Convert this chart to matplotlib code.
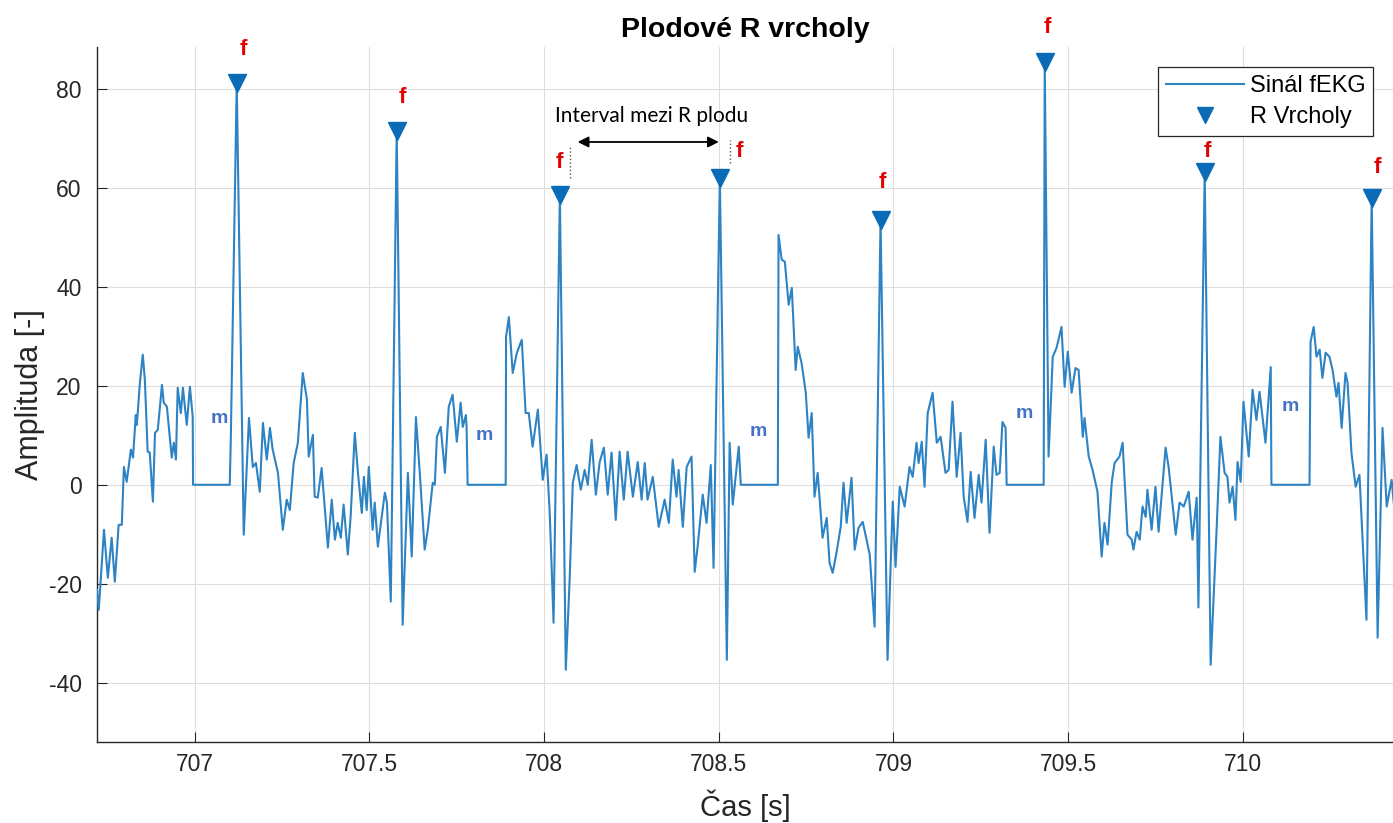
import numpy as np
import matplotlib
matplotlib.use("Agg")
from matplotlib import pyplot as plt
from matplotlib.ticker import MultipleLocator, FuncFormatter

matplotlib.rcParams.update({'font.family': ['Liberation Sans', 'DejaVu Sans'],
                            'axes.unicode_minus': False})

# fetal ECG trace (time [s], amplitude [-])
sig_t = [
    706.720, 706.725, 706.740, 706.751, 706.762, 706.771, 706.782, 706.791, 706.797, 706.805,
    706.817, 706.823, 706.831, 706.834, 706.843, 706.851, 706.857, 706.865, 706.871, 706.880,
    706.886, 706.894, 706.906, 706.911, 706.920, 706.934, 706.940, 706.946, 706.951, 706.960,
    706.966, 706.977, 706.986, 706.994, 706.995, 707.100, 707.103, 707.120, 707.140, 707.155,
    707.166, 707.175, 707.186, 707.195, 707.206, 707.215, 707.223, 707.238, 707.252, 707.263,
    707.272, 707.283, 707.295, 707.309, 707.321, 707.326, 707.338, 707.343, 707.352, 707.363,
    707.381, 707.392, 707.401, 707.409, 707.418, 707.426, 707.438, 707.446, 707.458, 707.467,
    707.478, 707.484, 707.492, 707.498, 707.509, 707.515, 707.524, 707.544, 707.550, 707.561,
    707.578, 707.595, 707.610, 707.621, 707.633, 707.644, 707.658, 707.667, 707.681, 707.687,
    707.693, 707.704, 707.716, 707.727, 707.738, 707.750, 707.761, 707.767, 707.776, 707.778,
    707.781, 707.890, 707.891, 707.899, 707.910, 707.922, 707.936, 707.947, 707.956, 707.967,
    707.982, 707.996, 708.007, 708.016, 708.027, 708.045, 708.062, 708.073, 708.082, 708.093,
    708.105, 708.116, 708.125, 708.136, 708.148, 708.159, 708.171, 708.182, 708.193, 708.205,
    708.216, 708.228, 708.239, 708.254, 708.268, 708.279, 708.288, 708.296, 708.311, 708.328,
    708.345, 708.357, 708.368, 708.379, 708.385, 708.397, 708.408, 708.422, 708.431, 708.440,
    708.454, 708.465, 708.477, 708.485, 708.503, 708.523, 708.531, 708.540, 708.557, 708.563,
    708.669, 708.671, 708.680, 708.689, 708.700, 708.709, 708.720, 708.726, 708.737, 708.749,
    708.757, 708.766, 708.774, 708.783, 708.797, 708.809, 708.817, 708.826, 708.837, 708.849,
    708.857, 708.866, 708.880, 708.889, 708.900, 708.912, 708.932, 708.946, 708.963, 708.983,
    708.998, 709.006, 709.018, 709.032, 709.046, 709.055, 709.066, 709.072, 709.081, 709.089,
    709.098, 709.112, 709.124, 709.135, 709.149, 709.158, 709.169, 709.181, 709.192, 709.201,
    709.212, 709.221, 709.232, 709.244, 709.252, 709.264, 709.275, 709.287, 709.295, 709.304,
    709.312, 709.321, 709.324, 709.430, 709.433, 709.444, 709.456, 709.467, 709.481, 709.490,
    709.499, 709.510, 709.521, 709.530, 709.542, 709.547, 709.559, 709.570, 709.584, 709.596,
    709.604, 709.613, 709.625, 709.633, 709.647, 709.656, 709.670, 709.682, 709.687, 709.696,
    709.705, 709.713, 709.722, 709.727, 709.739, 709.750, 709.759, 709.779, 709.788, 709.808,
    709.819, 709.831, 709.845, 709.856, 709.868, 709.873, 709.891, 709.908, 709.925, 709.936,
    709.948, 709.956, 709.962, 709.971, 709.979, 709.985, 709.994, 710.002, 710.017, 710.028,
    710.039, 710.048, 710.065, 710.080, 710.082, 710.191, 710.194, 710.203, 710.211, 710.220,
    710.228, 710.237, 710.248, 710.257, 710.268, 710.274, 710.283, 710.294, 710.300, 710.311,
    710.323, 710.334, 710.354, 710.369, 710.386, 710.400, 710.412, 710.426, 710.434,
]
sig_amp = [
    -21.2, -25.3, -9.1, -18.8, -10.7, -19.6, -8.1, -8.1, 3.6, 0.6,
    7.1, 5.5, 14.1, 12.1, 20.8, 26.3, 21.2, 6.7, 6.5, -3.4,
    10.5, 11.1, 20.2, 16.6, 15.8, 5.5, 8.5, 5.1, 19.6, 14.5,
    19.6, 12.1, 19.8, 13.7, 0.0, 0.0, 9.1, 81.2, -10.1, 13.5,
    3.6, 4.4, -1.4, 12.5, 5.1, 11.5, 7.1, 2.4, -9.1, -3.0,
    -5.1, 4.4, 8.5, 22.6, 17.2, 5.7, 10.1, -2.4, -2.6, 3.4,
    -12.7, -3.0, -11.1, -7.7, -10.7, -4.0, -14.1, -6.5, 10.5, 2.4,
    -5.7, 1.6, -5.1, 3.6, -9.1, -3.6, -12.5, -1.6, -3.6, -23.6,
    71.5, -28.3, 2.4, -14.5, 13.7, 2.4, -13.1, -9.1, 0.4, 0.0,
    9.7, 11.7, 2.4, 15.8, 18.2, 8.7, 16.6, 11.7, 14.1, 11.7,
    0.0, 0.0, 29.9, 33.9, 22.6, 26.7, 29.3, 14.5, 14.5, 7.7,
    15.2, 1.0, 6.1, -5.7, -27.9, 58.6, -37.4, -19.2, 0.4, 4.0,
    -1.0, 3.0, 0.0, 9.1, -2.0, 4.6, 7.5, -2.0, 6.5, -7.1,
    6.7, -3.0, 6.7, -2.4, 4.6, -3.0, 4.4, -3.0, 1.6, -8.5,
    -3.0, -7.7, 5.1, -2.4, 3.0, -8.5, 3.6, 5.7, -17.6, -12.1,
    -2.0, -7.7, 4.0, -16.8, 62.0, -35.4, 8.5, -4.0, 7.7, 0.0,
    0.0, 50.5, 45.5, 45.1, 36.4, 39.8, 23.2, 27.9, 24.6, 18.6,
    9.5, 14.5, -2.4, 2.4, -10.7, -6.7, -15.8, -17.8, -13.7, -8.5,
    0.4, -7.7, 1.4, -13.1, -8.7, -7.5, -14.1, -28.7, 53.5, -35.4,
    -3.4, -16.6, -0.4, -4.4, 3.6, 1.6, 8.5, 4.4, 8.7, -0.4,
    14.5, 18.6, 8.5, 9.7, 2.4, 3.0, 16.8, 1.6, 10.5, -2.4,
    -7.5, 2.6, -6.7, 2.0, -3.6, 9.1, -9.7, 7.7, 2.0, 2.4,
    12.7, 11.5, 0.0, 0.0, 85.5, 5.7, 25.9, 27.7, 31.9, 19.8,
    26.9, 18.6, 23.6, 23.2, 9.7, 13.5, 5.7, 3.0, -1.4, -14.5,
    -7.7, -12.1, 0.6, 4.4, 5.7, 8.5, -10.1, -11.1, -13.1, -9.5,
    -11.1, -4.4, -6.5, -1.0, -9.1, -0.4, -9.5, 7.5, 3.4, -10.1,
    -3.6, -4.4, -1.4, -11.1, -2.6, -24.8, 63.2, -36.4, -9.1, 9.7,
    2.4, 1.6, -3.6, -0.4, -7.1, 4.6, 0.6, 16.8, 5.7, 19.2,
    13.1, 18.8, 8.5, 23.8, 0.0, 0.0, 28.9, 31.9, 25.9, 27.3,
    21.6, 26.7, 25.9, 23.2, 17.8, 20.6, 11.5, 22.6, 20.6, 6.5,
    -0.4, 2.0, -27.3, 58.0, -30.9, 11.5, -4.4, 1.0, -5.0,
]

# detected fetal R peaks
peak_t = [707.120, 707.578, 708.045, 708.503, 708.963, 709.433, 709.891, 710.369]
peak_amp = [81.2, 71.5, 58.6, 62.0, 53.5, 85.5, 63.2, 58.0]
# where the "f" labels sit relative to each peak (points)
f_offsets = [(5, 24), (4, 24), (0, 23), (14, 19), (1, 27), (2, 25), (2, 15), (4, 22)]

# blanked maternal QRS segments, "m" labels
m_t = [707.069, 707.830, 708.614, 709.375, 710.137]
m_amp = [13.3, 9.9, 10.7, 14.5, 15.8]

x_ticks = [707, 707.5, 708, 708.5, 709, 709.5, 710]
y_ticks = [-40, -20, 0, 20, 40, 60, 80]


def main():
    fig = plt.figure(figsize=(13.93, 8.23), dpi=100)
    ax = fig.add_axes([97 / 1393, 1 - 742 / 823, 1 - 97 / 1393, (742 - 47) / 823])

    ax.plot(sig_t, sig_amp, color='#2d83c3', lw=1.5, label='Sinál fEKG', zorder=3)
    ax.plot(peak_t, peak_amp, 'v', color='#0a6cb6', ms=13, label='R Vrcholy', zorder=4)

    for t, a, off in zip(peak_t, peak_amp, f_offsets):
        ax.annotate('f', (t, a), xytext=off, textcoords='offset points',
                    ha='center', va='center', color='#e00000',
                    fontsize=16, fontweight='bold', zorder=7)
    for t, a in zip(m_t, m_amp):
        ax.text(t, a, 'm', ha='center', va='center', color='#4472c4',
                fontsize=14, fontweight='bold')

    # RR interval between two fetal beats
    ax.annotate('', xy=(708.096, 69.3), xytext=(708.500, 69.3),
                arrowprops=dict(arrowstyle='<|-|>', color='black', lw=1.3,
                                mutation_scale=16, shrinkA=0, shrinkB=0))
    ax.text(708.308, 74.5, 'Interval mezi R plodu', ha='center', va='center',
            fontsize=15, family=['Lato', 'DejaVu Sans'])
    ax.plot([708.073, 708.073], [62.0, 68.3], ':', color='#555555', lw=1)
    ax.plot([708.531, 708.531], [65.0, 69.7], ':', color='#555555', lw=1)

    ax.set_xlim(706.72, 710.43)
    ax.set_ylim(-52, 88.5)
    ax.set_xticks(x_ticks)
    ax.set_yticks(y_ticks)
    ax.xaxis.set_major_formatter(FuncFormatter(lambda v, p: '%g' % v))
    ax.grid(True, color='#dedede', lw=0.8, zorder=0)
    ax.set_axisbelow(True)
    ax.tick_params(direction='in', length=7, width=0.8, colors='#262626',
                   labelsize=16.5)
    ax.tick_params(axis='y', pad=11)
    ax.tick_params(axis='x', pad=8)
    for s in ['top', 'right']:
        ax.spines[s].set_visible(False)
    for s in ['left', 'bottom']:
        ax.spines[s].set_color('#262626')
        ax.spines[s].set_linewidth(1.0)

    ax.set_title('Plodové R vrcholy', fontsize=20.5, fontweight='bold', pad=7)
    ax.set_xlabel('Čas [s]', fontsize=21, color='#262626', labelpad=10)
    ax.set_ylabel('Amplituda [-]', fontsize=22, color='#262626', labelpad=3)

    leg = ax.legend(loc='upper right', bbox_to_anchor=(1373 / 1393, 1 - 67 / 823),
                    bbox_transform=fig.transFigure, borderaxespad=0,
                    fontsize=17, handlelength=3.3, handletextpad=0.25,
                    labelspacing=0.4, borderpad=0.33, fancybox=False,
                    framealpha=1, markerscale=0.9)
    leg.get_frame().set_edgecolor('#262626')
    leg.get_frame().set_linewidth(0.9)
    leg.set_zorder(6)

    fig.savefig('out.png', dpi=100)


if __name__ == "__main__":
    main()
